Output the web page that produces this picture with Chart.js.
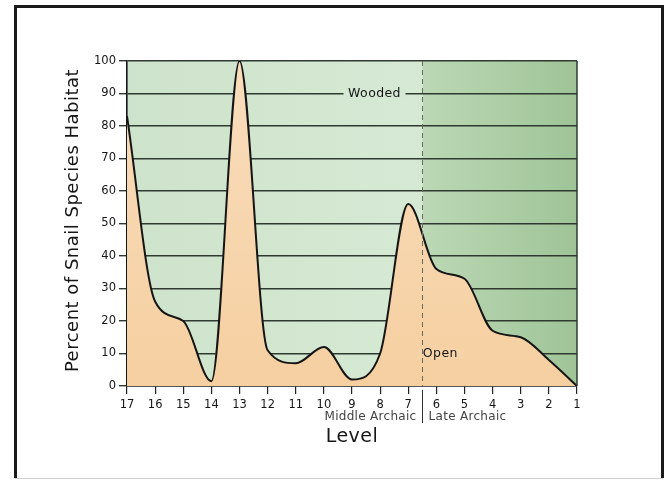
<!DOCTYPE html>
<html>
<head>
<meta charset="utf-8">
<script src="https://cdn.jsdelivr.net/npm/chart.js@4.4.1/dist/chart.umd.min.js"></script>
<style>
  html, body { margin: 0; padding: 0; background: #ffffff; }
  #wrap { width: 670px; height: 480px; position: relative; }
</style>
</head>
<body>
<div id="wrap"><canvas id="chart" width="670" height="480"></canvas></div>
<script>
// Excavation levels, deepest (oldest) on the left
const levels = [17, 16, 15, 14, 13, 12, 11, 10, 9, 8, 7, 6, 5, 4, 3, 2, 1];
// Percent of snail species indicating open habitat at each level
const openHabitat = [83, 26, 20, 1.5, 100, 11, 7, 12, 2, 10, 56, 36, 33, 17, 15, 8, 0];
// Percent axis ticks
const percentTicks = [0, 10, 20, 30, 40, 50, 60, 70, 80, 90, 100];
// Cultural periods and the level where they meet
const periods = ["Middle Archaic", "Late Archaic"];
const periodBoundary = 6.5;
// Habitat zone names
const zoneNames = ["Wooded", "Open"];

const FONT = "'DejaVu Sans', 'Noto Sans', sans-serif";
const INK = "#161616";
const GRID = "#2e3a30";
const ORANGE = "#f7d6ae";

const decorations = {
  id: "decorations",
  beforeDraw(chart) {
    const ctx = chart.ctx;
    const a = chart.chartArea;
    const x = chart.scales.x;
    const bx = x.getPixelForValue(periodBoundary);
    ctx.save();
    // outer frame
    ctx.fillStyle = "#ffffff";
    ctx.fillRect(0, 0, chart.width, chart.height);
    ctx.strokeStyle = "#1a1a1a";
    ctx.lineWidth = 3;
    ctx.beginPath();
    ctx.moveTo(15.5, 478);
    ctx.lineTo(15.5, 6.5);
    ctx.lineTo(662.5, 6.5);
    ctx.lineTo(662.5, 478);
    ctx.stroke();
    ctx.strokeStyle = "#cfcfcf";
    ctx.lineWidth = 1;
    ctx.beginPath();
    ctx.moveTo(15, 478.5);
    ctx.lineTo(663, 478.5);
    ctx.stroke();
    // wooded background, lighter in the Middle Archaic, deeper in the Late Archaic
    const gl = ctx.createLinearGradient(a.left, 0, bx, 0);
    gl.addColorStop(0, "#cee3cb");
    gl.addColorStop(1, "#d6e9d4");
    ctx.fillStyle = gl;
    ctx.fillRect(a.left, a.top, bx - a.left, a.bottom - a.top);
    const gr = ctx.createLinearGradient(bx, 0, a.right, 0);
    gr.addColorStop(0, "#bcd8b6");
    gr.addColorStop(1, "#9fc497");
    ctx.fillStyle = gr;
    ctx.fillRect(bx, a.top, a.right - bx, a.bottom - a.top);
    ctx.restore();
  },
  afterDraw(chart) {
    const ctx = chart.ctx;
    const a = chart.chartArea;
    const x = chart.scales.x;
    const y = chart.scales.y;
    const bx = Math.round(x.getPixelForValue(periodBoundary)) + 0.5;
    ctx.save();

    // right edge of the plot
    ctx.strokeStyle = GRID;
    ctx.lineWidth = 1.5;
    ctx.beginPath();
    ctx.moveTo(a.right, a.top);
    ctx.lineTo(a.right, a.bottom);
    ctx.stroke();

    // zone labels sitting on the 90 % and 10 % rules
    ctx.font = "12.5px " + FONT;
    ctx.letterSpacing = "0.4px";
    ctx.textBaseline = "middle";
    ctx.textAlign = "center";
    const zones = [
      { name: zoneNames[0], cx: x.getPixelForValue(8.2), cy: y.getPixelForValue(90), w: 62, bg: "#d5e8d3" },
      { name: zoneNames[1], cx: x.getPixelForValue(5.86), cy: y.getPixelForValue(10), w: 47, bg: "#f6d3a8" }
    ];
    zones.forEach(z => {
      ctx.fillStyle = z.bg;
      ctx.fillRect(z.cx - z.w / 2, z.cy - 5, z.w, 10);
      ctx.fillStyle = INK;
      ctx.fillText(z.name, z.cx, z.cy + 0.5);
    });

    // dashed boundary between the periods
    ctx.strokeStyle = "#6a6a5a";
    ctx.lineWidth = 1;
    ctx.setLineDash([5, 4]);
    ctx.beginPath();
    ctx.moveTo(bx, a.top);
    ctx.lineTo(bx, a.bottom);
    ctx.stroke();
    ctx.setLineDash([]);

    // solid divider between the period names
    ctx.strokeStyle = "#333";
    ctx.lineWidth = 1;
    ctx.beginPath();
    ctx.moveTo(bx, a.bottom + 4);
    ctx.lineTo(bx, a.bottom + 37);
    ctx.stroke();

    // period names
    ctx.fillStyle = "#444";
    ctx.font = "12px " + FONT;
    ctx.letterSpacing = "0.3px";
    ctx.textBaseline = "middle";
    ctx.textAlign = "right";
    ctx.fillText(periods[0], bx - 6, a.bottom + 31);
    ctx.textAlign = "left";
    ctx.fillText(periods[1], bx + 6, a.bottom + 31);

    // axis titles
    ctx.fillStyle = INK;
    ctx.font = "19px " + FONT;
    ctx.letterSpacing = "0.5px";
    ctx.textAlign = "center";
    ctx.fillText("Level", (a.left + a.right) / 2, a.bottom + 51);

    ctx.translate(73, (a.top + a.bottom) / 2 - 3);
    ctx.rotate(-Math.PI / 2);
    ctx.font = "18px " + FONT;
    ctx.letterSpacing = "0.5px";
    ctx.fillText("Percent of Snail Species Habitat", 0, 0);
    ctx.restore();
  }
};

const ctxEl = document.getElementById("chart").getContext("2d");

new Chart(ctxEl, {
  type: "line",
  data: {
    datasets: [{
      label: "Open habitat",
      data: levels.map((lv, i) => ({ x: lv, y: openHabitat[i] })),
      borderColor: "#151515",
      borderWidth: 2,
      pointRadius: 0,
      cubicInterpolationMode: "monotone",
      fill: "origin",
      backgroundColor: (c) => {
        const a = c.chart.chartArea;
        if (!a) return ORANGE;
        const g = c.chart.ctx.createLinearGradient(0, a.top, 0, a.bottom);
        g.addColorStop(0, "#f9ddbd");
        g.addColorStop(1, "#f5cfa0");
        return g;
      }
    }]
  },
  options: {
    responsive: false,
    animation: false,
    devicePixelRatio: 1,
    layout: { padding: { left: 0, top: 61, right: 93, bottom: 0 } },
    plugins: {
      legend: { display: false },
      tooltip: { enabled: false }
    },
    scales: {
      x: {
        type: "linear",
        reverse: true,
        min: 1,
        max: 17,
        z: 1,
        afterBuildTicks: (s) => { s.ticks = levels.map(v => ({ value: v })); },
        afterFit: (s) => { s.height = 94; },
        ticks: {
          color: INK,
          font: { family: FONT, size: 11.5 },
          padding: 4,
          maxRotation: 0,
          autoSkip: false
        },
        grid: {
          drawOnChartArea: false,
          color: "#222",
          tickLength: 8,
          lineWidth: 1.2
        },
        border: { color: "#151515", width: 1.6 }
      },
      y: {
        min: 0,
        max: 100,
        z: 1,
        afterBuildTicks: (s) => { s.ticks = percentTicks.map(v => ({ value: v })); },
        afterFit: (s) => { s.width = 127; },
        ticks: {
          color: INK,
          font: { family: FONT, size: 11.5 },
          padding: 3
        },
        grid: {
          color: GRID,
          lineWidth: 1.4,
          tickLength: 8
        },
        border: { color: "#151515", width: 1.6 }
      }
    }
  },
  plugins: [decorations]
});
</script>
</body>
</html>
